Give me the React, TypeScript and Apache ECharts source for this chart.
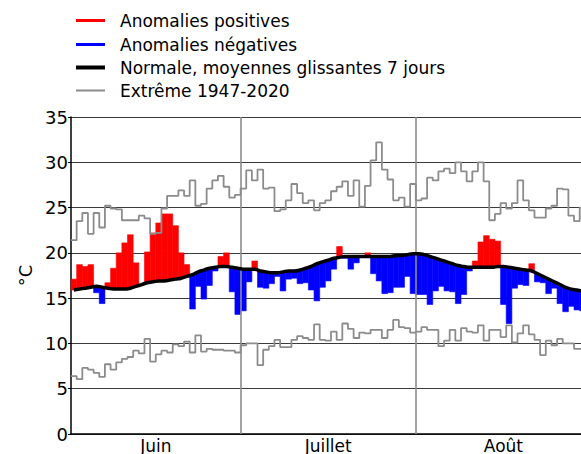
import React, { useEffect, useRef } from 'react';
import * as echarts from 'echarts';

const monthNames = ['Juin', 'Juillet', 'Août'];
const monthLengths = [30, 31, 31];

// Daily mean temperature (°C), 1 June - 31 August
const actual = [
  17.1, 18.7, 18.5, 18.7, 15.6, 14.4, 16.7, 18.3, 20.0, 21.1,
  22.0, 18.9, 16.5, 20.1, 22.2, 23.3, 24.3, 24.3, 23.0, 20.0,
  18.7, 13.8, 16.3, 14.9, 16.4, 18.0, 19.6, 20.0, 15.7, 13.2,
  13.6, 16.8, 19.1, 16.2, 16.1, 16.6, 17.4, 15.8, 17.1, 17.2,
  16.6, 16.7, 15.9, 14.7, 16.2, 16.9, 18.2, 20.7, 19.4, 18.2,
  18.9, 19.5, 20.0, 17.7, 16.9, 15.5, 15.6, 16.2, 16.2, 17.4,
  15.5,
  15.4, 15.4, 14.3, 15.8, 16.3, 15.8, 15.7, 14.4, 15.4, 18.0,
  19.1, 21.2, 21.9, 21.5, 21.3, 14.3, 12.2, 16.1, 16.5, 16.4,
  18.8, 16.8, 16.7, 15.5, 16.1, 14.4, 13.5, 14.1, 13.7, 13.6,
  14.5,
];

// Normal, 7-day moving average
const normal = [
  15.9, 16.0, 16.1, 16.2, 16.3, 16.2, 16.1, 16.0, 16.0, 16.0,
  16.1, 16.3, 16.5, 16.7, 16.8, 16.9, 16.9, 17.0, 17.1, 17.2,
  17.4, 17.6, 17.9, 18.1, 18.3, 18.4, 18.5, 18.5, 18.4, 18.3,
  18.2, 18.2, 18.2, 18.0, 17.9, 17.8, 17.8, 17.9, 18.0, 18.0,
  18.1, 18.3, 18.5, 18.8, 19.0, 19.2, 19.4, 19.5, 19.6, 19.6,
  19.6, 19.6, 19.6, 19.6, 19.6, 19.6, 19.6, 19.7, 19.7, 19.8,
  19.9,
  19.9, 19.8, 19.6, 19.4, 19.2, 19.0, 18.8, 18.6, 18.5, 18.4,
  18.4, 18.4, 18.4, 18.4, 18.5, 18.5, 18.4, 18.3, 18.2, 18.1,
  18.0, 17.7, 17.4, 17.1, 16.8, 16.5, 16.2, 16.0, 15.9, 15.8,
  15.8,
];

// Extremes 1947-2020
const maxExtreme = [
  21.4, 23.5, 24.4, 22.1, 24.4, 22.8, 25.2, 24.9, 24.8, 23.6,
  23.6, 23.6, 24.1, 23.8, 22.1, 22.2, 24.9, 26.3, 26.3, 26.9,
  26.3, 28.0, 25.2, 25.4, 27.1, 28.0, 28.5, 27.3, 26.1, 26.4,
  27.1, 29.1, 28.0, 29.2, 27.1, 27.2, 24.6, 24.8, 25.8, 27.6,
  26.6, 25.5, 25.8, 24.7, 25.5, 25.8, 26.8, 27.3, 27.9, 26.3,
  28.0, 25.1, 27.4, 30.2, 32.2, 29.2, 28.1, 25.8, 26.1, 25.1,
  27.6,
  25.8, 26.0, 28.3, 28.0, 29.0, 29.3, 28.8, 30.0, 29.0, 27.9,
  29.0, 30.0, 27.9, 23.6, 24.3, 25.5, 24.9, 25.5, 28.0, 25.8,
  24.7, 23.9, 23.9, 24.9, 25.2, 27.1, 27.0, 24.1, 23.5, 25.0,
  25.0,
];

const minExtreme = [
  6.4, 6.05, 7.3, 7.1, 6.75, 6.3, 7.7, 7.1, 7.9, 8.3,
  8.5, 9.2, 8.9, 10.5, 8.0, 8.8, 9.2, 9.0, 9.9, 9.7,
  10.2, 9.0, 10.9, 9.1, 9.4, 9.3, 9.3, 9.2, 9.2, 9.0,
  9.8, 10.0, 10.0, 7.6, 9.3, 9.7, 10.4, 9.6, 9.6, 10.4,
  10.8, 10.6, 10.4, 12.1, 10.4, 10.3, 11.3, 10.4, 12.2, 11.6,
  10.6, 11.2, 11.1, 11.5, 11.5, 10.6, 11.5, 12.6, 11.8, 11.7,
  11.2,
  11.3, 11.8, 11.5, 11.5, 9.7, 10.3, 11.5, 10.3, 11.7, 11.3,
  11.2, 12.0, 10.3, 11.5, 11.5, 10.7, 12.0, 10.1, 11.1, 12.0,
  11.0, 10.4, 8.7, 10.3, 9.8, 10.5, 10.0, 10.0, 9.4, 9.4,
  9.3,
];

const FONT = 'DejaVu Sans';

export default function App() {
  const ref = useRef<HTMLDivElement>(null);

  useEffect(() => {
    const chart = echarts.init(ref.current!, null, { renderer: 'svg' });
    const n = actual.length;

    const starts: number[] = [];
    const mids: number[] = [];
    let acc = 0;
    monthLengths.forEach((len) => {
      starts.push(acc);
      mids.push(acc + len / 2);
      acc += len;
    });

    const posData: number[][] = [];
    const negData: number[][] = [];
    actual.forEach((a, i) => {
      if (a >= normal[i]) posData.push([i, normal[i], a]);
      else negData.push([i, a, normal[i]]);
    });

    const stepData = (arr: number[]) => {
      const d = arr.map((v, i) => [i, v]);
      d.push([n, arr[n - 1]]);
      return d;
    };

    const makeRender = (color: string) => (params: any, api: any) => {
      const i = api.value(0);
      const lo = api.value(1);
      const hi = api.value(2);
      const p0 = api.coord([i, lo]);
      const p1 = api.coord([i + 1, hi]);
      return {
        type: 'rect',
        shape: { x: p0[0], y: p1[1], width: p1[0] - p0[0], height: p0[1] - p1[1] },
        style: { fill: color, stroke: color, lineWidth: 0.6 },
      };
    };

    const textStyle = { fontFamily: FONT, fontSize: 17, color: '#000', padding: [0, 0, 0, 10] };
    const legendBase = { left: 76, itemWidth: 29, icon: 'rect', padding: 0, itemGap: 0, textStyle };

    chart.setOption({
      animation: false,
      legend: [
        { ...legendBase, top: 12, itemHeight: 3, data: ['Anomalies positives'] },
        { ...legendBase, top: 36, itemHeight: 3, data: ['Anomalies négatives'] },
        { ...legendBase, top: 59, itemHeight: 4, data: ['Normale, moyennes glissantes 7 jours'] },
        { ...legendBase, top: 82, itemHeight: 2, data: ['Extrême 1947-2020'] },
      ],
      grid: { left: 71, top: 117, width: 520, height: 317, outerBoundsMode: 'none', containLabel: false },
      xAxis: {
        type: 'value',
        min: 0,
        max: n,
        axisLine: { show: true, lineStyle: { color: '#000', width: 1.5 } },
        axisTick: { show: false },
        splitLine: { show: false },
        axisLabel: {
          customValues: mids,
          formatter: (v: number) => {
            const k = mids.findIndex((m) => Math.abs(m - v) < 0.01);
            return k >= 0 ? monthNames[k] : '';
          },
          fontFamily: FONT,
          fontSize: 17,
          color: '#000',
          margin: 3,
        },
      },
      yAxis: {
        type: 'value',
        min: 0,
        max: 35,
        interval: 5,
        name: '°C',
        nameLocation: 'middle',
        nameRotate: 90,
        nameGap: 37,
        nameTextStyle: { fontFamily: FONT, fontSize: 18, color: '#000' },
        axisLine: { show: true, lineStyle: { color: '#000', width: 1.5 } },
        axisTick: { show: true, length: 3, lineStyle: { color: '#000' } },
        axisLabel: { fontFamily: FONT, fontSize: 18, color: '#000', margin: 3 },
        splitLine: { show: true, lineStyle: { color: '#3a3a3a', width: 1.2 } },
      },
      series: [
        {
          name: 'Anomalies positives',
          type: 'custom',
          renderItem: makeRender('#ff0000'),
          itemStyle: { color: '#ff0000' },
          encode: { x: 0, y: [1, 2] },
          data: posData,
          z: 2,
        },
        {
          name: 'Anomalies négatives',
          type: 'custom',
          renderItem: makeRender('#0000ff'),
          itemStyle: { color: '#0000ff' },
          encode: { x: 0, y: [1, 2] },
          data: negData,
          z: 2,
        },
        {
          name: 'Normale, moyennes glissantes 7 jours',
          type: 'line',
          smooth: true,
          showSymbol: false,
          symbol: 'none',
          color: '#000',
          lineStyle: { color: '#000', width: 3.5 },
          data: normal.map((v, i) => [i + 0.5, v]),
          z: 5,
        },
        {
          name: 'Extrême 1947-2020',
          type: 'line',
          step: 'end',
          showSymbol: false,
          symbol: 'none',
          color: '#8c8c8c',
          lineStyle: { color: '#8c8c8c', width: 1.8 },
          data: stepData(maxExtreme),
          z: 4,
          markLine: {
            silent: true,
            symbol: ['none', 'none'],
            label: { show: false },
            lineStyle: { color: '#8c8c8c', width: 1.6, type: 'solid' },
            data: starts.slice(1).map((s) => ({ xAxis: s })),
          },
        },
        {
          name: 'Extrême 1947-2020',
          type: 'line',
          step: 'end',
          showSymbol: false,
          symbol: 'none',
          color: '#8c8c8c',
          lineStyle: { color: '#8c8c8c', width: 1.8 },
          data: stepData(minExtreme),
          z: 4,
        },
      ],
    });

    return () => chart.dispose();
  }, []);

  return (
    <div
      ref={ref}
      style={{ position: 'absolute', left: 0, top: 0, width: 581, height: 454 }}
    />
  );
}
